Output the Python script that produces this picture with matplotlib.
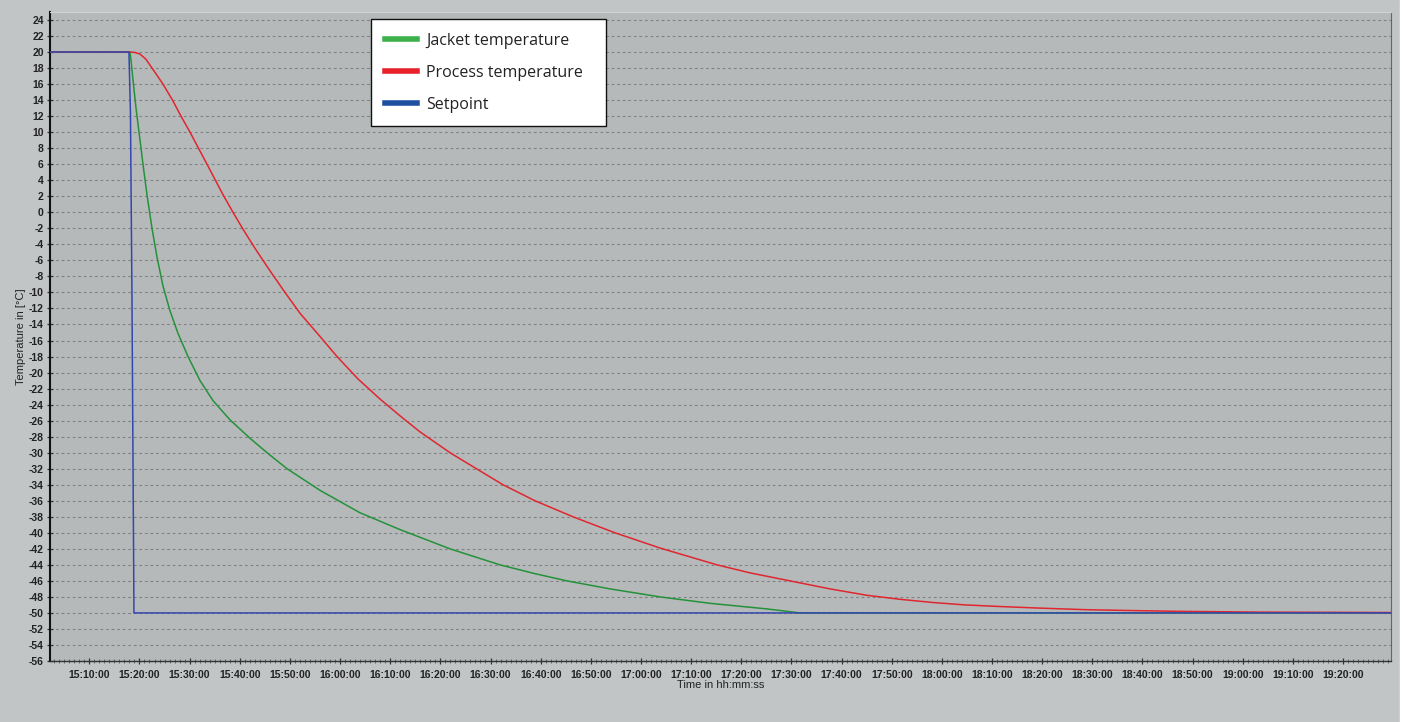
import pandas as pd
import matplotlib
matplotlib.use('Agg')
import matplotlib.pyplot as plt
import matplotlib.dates as mdates
from matplotlib.ticker import MultipleLocator
from matplotlib.patches import Rectangle

plt.rcParams['axes.unicode_minus'] = False

# time axis values are minutes after 15:00:00
x_start = 2.16
x_end = 269.56

setpoint_min = [2.16, 17.90, 18.20, 18.50, 18.90, 269.56]
setpoint_temp = [20, 20, 12.5, -10, -50, -50]

jacket_min = [2.16, 18.11, 18.31, 18.71, 19.31, 20.11, 20.70, 21.50, 22.50, 23.50,
              24.69, 26.09, 27.68, 29.68, 32.07, 34.66, 38.05, 42.04, 45.43, 49.42,
              56.00, 63.98, 71.95, 81.92, 91.89, 98.87, 105.25, 113.83, 123.80,
              133.76, 145.13, 151.71, 269.56]
jacket_temp = [20, 20, 19, 16.5, 13, 9, 6, 2.2, -2, -5.6,
               -9.2, -12.3, -15.1, -18, -21, -23.5, -25.9, -28.2, -30, -32,
               -34.7, -37.5, -39.6, -42, -44, -45.1, -46, -47, -48,
               -48.8, -49.5, -50, -50]

process_min = [2.16, 18.11, 19.11, 20.11, 21.30, 22.50, 23.50, 24.69, 26.59, 28.28,
               30.08, 31.77, 33.47, 35.06, 36.66, 38.65, 40.64, 43.04, 46.03, 49.02,
               52.01, 55.60, 59.39, 63.58, 67.96, 71.95, 75.94, 81.92, 86.91, 92.49,
               98.87, 106.45, 114.82, 123.80, 135.16, 141.74, 149.72, 157.69, 165.07,
               171.65, 178.23, 184.61, 191.59, 199.57, 208.94, 217.51, 226.89, 243.44,
               269.56]
process_temp = [20, 20, 19.95, 19.75, 19.1, 18, 17.1, 16, 14, 12,
                10, 8, 6, 4.1, 2.2, 0, -2.1, -4.5, -7.3, -10,
                -12.6, -15.2, -18, -20.8, -23.3, -25.4, -27.4, -30, -31.9, -34,
                -36, -38, -40, -41.9, -44, -45, -46, -47, -47.8,
                -48.3, -48.7, -49, -49.2, -49.4, -49.6, -49.7, -49.8, -49.9,
                -49.95]

legend_labels = ['Jacket temperature', 'Process temperature', 'Setpoint']

base = pd.Timestamp('2000-01-01 15:00:00')


def to_dt(mins):
    return base + pd.to_timedelta(mins, unit='m')


fig = plt.figure(figsize=(14.03, 7.22), dpi=100, facecolor='#c2c5c6')
fig.add_artist(Rectangle((1400 / 1403, 0), 3 / 1403, 1, transform=fig.transFigure,
                         color='white', zorder=0))
ax = fig.add_axes([50 / 1403, 61 / 722, 1341 / 1403, 649 / 722])
ax.set_facecolor('#b6b9ba')

ax.plot(to_dt(jacket_min), jacket_temp, color='#23923a', lw=1.1, zorder=3)
ax.plot(to_dt(process_min), process_temp, color='#e0262e', lw=1.1, zorder=3)
ax.plot(to_dt(setpoint_min), setpoint_temp, color='#3347b0', lw=1.1, zorder=4)

ax.set_xlim(to_dt(x_start), to_dt(x_end))
ax.set_ylim(-56, 25)

ax.yaxis.set_major_locator(MultipleLocator(2))
ax.xaxis.set_major_locator(mdates.MinuteLocator(byminute=range(0, 60, 10)))
ax.xaxis.set_minor_locator(mdates.MinuteLocator(byminute=range(0, 60, 1)))
ax.xaxis.set_major_formatter(mdates.DateFormatter('%H:%M:%S'))

ax.grid(axis='y', color='#808385', linestyle=(0, (2.5, 2.5)), linewidth=0.8)
ax.set_axisbelow(True)

for lab in ax.get_xticklabels() + ax.get_yticklabels():
    lab.set_fontfamily('Liberation Sans')
    lab.set_fontweight('bold')
    lab.set_fontsize(7.5)
    lab.set_color('#222222')

ax.tick_params(axis='both', which='major', direction='inout', length=5, width=0.9,
               color='#333333', pad=2)
ax.tick_params(axis='x', which='major', pad=4)
ax.tick_params(axis='x', which='minor', direction='inout', length=2.5, width=0.6,
               color='#555555')

ax.spines['left'].set_color('#111111')
ax.spines['left'].set_linewidth(1.5)
ax.spines['bottom'].set_color('#333333')
ax.spines['bottom'].set_linewidth(1.0)
ax.spines['right'].set_color('#666666')
ax.spines['top'].set_color('#d0d2d3')

ax.set_xlabel('Time in hh:mm:ss', fontfamily='Liberation Sans', fontsize=8,
              color='#222222', labelpad=0)
ax.set_ylabel('Temperature in [°C]', fontfamily='Liberation Sans', fontsize=8,
              color='#222222', labelpad=2)

handles = [plt.Line2D([], [], color=c, lw=4)
           for c in ['#3cb04a', '#e8202a', '#1f4fa0']]
leg_top = 1 - 7 / 649
leg = ax.legend(handles, legend_labels, loc='upper left', mode='expand',
                bbox_to_anchor=((371 - 50) / 1341, leg_top - 0.01, 235 / 1341, 0.01),
                prop={'family': 'Open Sans', 'size': 11.5}, frameon=True,
                fancybox=False, framealpha=1, edgecolor='#111111',
                handlelength=2.0, handletextpad=0.6, labelspacing=1.0,
                borderpad=0.85, borderaxespad=0)
leg.get_frame().set_linewidth(1.0)
for t in leg.get_texts():
    t.set_color('#222222')

plt.savefig('out.png', dpi=100, facecolor=fig.get_facecolor())
